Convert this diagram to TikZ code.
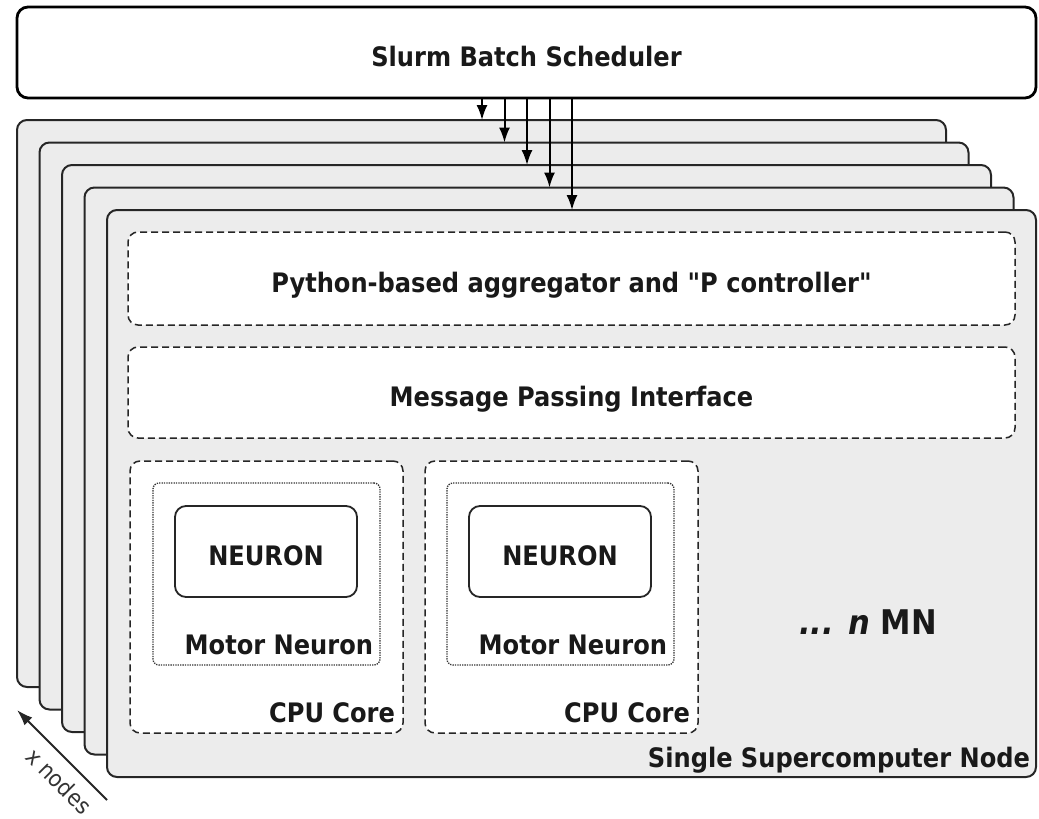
\documentclass[tikz,border=0pt]{standalone}
\usepackage{fontspec}
\setmainfont{DejaVu Sans Condensed}
\newfontfamily\plainqfont{DejaVu Sans Condensed}
\newcommand{\sq}{{\plainqfont\bfseries"}}
\usetikzlibrary{arrows.meta}
\begin{document}
\begin{tikzpicture}[x=1pt,y=-1pt,
  every node/.style={inner sep=0pt, outer sep=0pt},
  txt/.style={font=\bfseries\fontsize{26.8}{30}\selectfont, text=black!90},
  txtin/.style={txt, text height=27pt, text depth=0pt},
  schedbox/.style={draw=black, line width=2.8pt, fill=white, rounded corners=11pt, anchor=north west, minimum width=1019pt, minimum height=91pt, txtin},
  nodebox/.style={draw=black!85, line width=2pt, fill=gray!15, rounded corners=10pt, anchor=north west, minimum width=929pt, minimum height=567pt},
  layerbox/.style={draw=black!85, line width=1.5pt, dash pattern=on 7pt off 4pt, fill=white, rounded corners=10pt, anchor=north west, minimum width=887pt, txtin},
  corebox/.style={draw=black!85, line width=1.5pt, dash pattern=on 7pt off 4pt, fill=white, rounded corners=10pt, anchor=north west, minimum width=273pt, minimum height=272pt},
  mnbox/.style={draw=black!80, line width=1.3pt, dash pattern=on 1.3pt off 1.1pt, fill=white, rounded corners=6pt, anchor=north west, minimum width=227pt, minimum height=182pt},
  neuronbox/.style={draw=black!85, line width=1.8pt, fill=white, rounded corners=11pt, anchor=north west, minimum width=182pt, minimum height=91pt, txtin},
  arr/.style={line width=2pt, -{Latex[length=15pt,width=11pt]}}
]
\useasboundingbox (0,0) rectangle (1039,819);

% scheduler
\node[schedbox] (sched) at (17,7) {Slurm Batch Scheduler};

% stacked supercomputer nodes
\node[nodebox] (n1) at (17,120) {};
\node[nodebox] (n2) at (39.5,142.5) {};
\node[nodebox] (n3) at (62,165) {};
\node[nodebox] (n4) at (84.5,187.5) {};
\node[nodebox] (n5) at (107,210) {};

% arrows from scheduler to each node
\coordinate (a1) at (482,0);
\coordinate (a2) at (504.5,0);
\coordinate (a3) at (527,0);
\coordinate (a4) at (549.5,0);
\coordinate (a5) at (572,0);
\draw[arr] (sched.south -| a1) -- (n1.north -| a1);
\draw[arr] (sched.south -| a2) -- (n2.north -| a2);
\draw[arr] (sched.south -| a3) -- (n3.north -| a3);
\draw[arr] (sched.south -| a4) -- (n4.north -| a4);
\draw[arr] (sched.south -| a5) -- (n5.north -| a5);

% layers
\node[layerbox, minimum height=93pt] (agg) at (128,232) {Python-based aggregator and \sq P controller\sq};
\node[layerbox, minimum height=91pt] (mpi) at (128,347) {Message Passing Interface};

% CPU cores
\node[corebox] (cpu1) at (130,461) {};
\node[corebox] (cpu2) at (425,461) {};
\node[mnbox] (mn1) at (153,483) {};
\node[mnbox] (mn2) at (447,483) {};
\node[neuronbox] (neu1) at (175,506) {NEURON};
\node[neuronbox] (neu2) at (469,506) {NEURON};

\node[txt, anchor=base east] (mnl1) at ([shift={(-7,-11)}]mn1.south east) {Motor Neuron};
\node[txt, anchor=base east] (mnl2) at ([shift={(-7,-11)}]mn2.south east) {Motor Neuron};
\node[txt, anchor=base east] (cpul1) at ([shift={(-8,-11)}]cpu1.south east) {CPU Core};
\node[txt, anchor=base east] (cpul2) at ([shift={(-8,-11)}]cpu2.south east) {CPU Core};

\node[font=\bfseries\fontsize{34}{38}\selectfont, text=black!90] (more) at (868,622) {\itshape ... n\upshape\ MN};

\node[txt, anchor=base east] (snl) at ([shift={(-6,-10)}]n5.south east) {Single Supercomputer Node};

% x nodes arrow
\coordinate (xs) at (107,800);
\coordinate (xe) at (17,710);
\draw[line width=2pt, draw=black!85, -{Latex[length=16pt,width=11pt]}] (xs) -- (xe);
\node[font=\fontsize{23}{27}\selectfont, text=black!80, rotate=-45] (xl) at (59,781) {x nodes};
\end{tikzpicture}
\end{document}
